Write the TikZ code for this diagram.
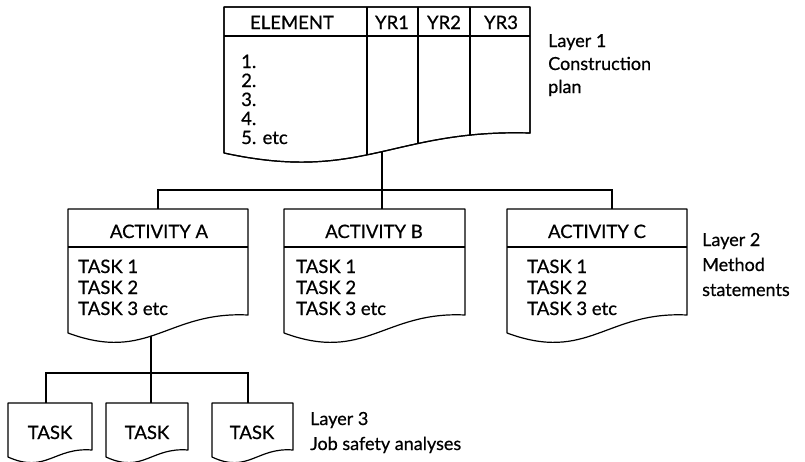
\documentclass[tikz,border=0pt]{standalone}
\usepackage{fontspec}
\setmainfont{Lato}[FakeBold=0.6]
\begin{document}
\begin{tikzpicture}[x=1pt,y=-1pt,
  box/.style={draw=black, line width=1.2pt, fill=white, line join=round},
  conn/.style={draw=black, line width=1.2pt},
  rule/.style={draw=black, line width=1.2pt},
  txt/.style={font=\fontsize{18.5}{21}\selectfont, inner sep=0pt},
  hdr/.style={txt, anchor=base},
  body/.style={txt, anchor=base west},
  lbl/.style={font=\fontsize{18}{22}\selectfont, inner sep=0pt, anchor=base west}]
\useasboundingbox (0,0) rectangle (805,461);

% ---- junction coordinates
\coordinate (tabstem) at (382,140);
\coordinate (Btop) at (382,209);
\coordinate (Atop) at (158,209);
\coordinate (Ctop) at (612,209);
\coordinate (bus1) at (382,190);
\coordinate (Astem) at (151,325);
\coordinate (bus2) at (151,373);
\coordinate (T1top) at (46,403);
\coordinate (T2top) at (151,403);
\coordinate (T3top) at (248,403);

% ---- connectors (drawn first, boxes cover their inner ends)
\draw[conn] (tabstem) -- (Btop);
\draw[conn] (Atop) |- (bus1) -| (Ctop);
\draw[conn] (Astem) -- (T2top);
\draw[conn] (T1top) |- (bus2) -| (T3top);

% ---- Layer 1 table
\path[box] (224,7) -- (530,7) -- (530,133) .. controls (392,129) and (362,183) .. (224,153) -- cycle;
\begin{scope}
  \clip (224,7) -- (530,7) -- (530,133) .. controls (392,129) and (362,183) .. (224,153) -- cycle;
  \draw[rule] (367,7) -- (367,200);
  \draw[rule] (418,7) -- (418,200);
  \draw[rule] (470,7) -- (470,200);
\end{scope}
\draw[box, fill=none] (224,7) -- (530,7) -- (530,133) .. controls (392,129) and (362,183) .. (224,153) -- cycle;
\draw[rule] (224,36) -- (530,36);
\node[hdr] (el) at (292,29) {ELEMENT};
\node[hdr] (y1) at (392,29) {YR1};
\node[hdr] (y2) at (444,29) {YR2};
\node[hdr] (y3) at (501,29) {YR3};
\node[body] (i1) at (241,68) {1.};
\node[body] (i2) at (241,87) {2.};
\node[body] (i3) at (241,106) {3.};
\node[body] (i4) at (241,125) {4.};
\node[body] (i5) at (241,144) {5. etc};

% ---- Layer 2 activity boxes
\path[box] (68,209) -- (248,209) -- (248,315) .. controls (167,311) and (149,363) .. (68,333) -- cycle;
\draw[rule] (68,247) -- (248,247);
\node[hdr] (actA) at (159,238) {ACTIVITY A};
\node[body] (a1) at (78,273) {TASK 1};
\node[body] (a2) at (78,294) {TASK 2};
\node[body] (a3) at (78,315) {TASK 3 etc};

\path[box] (284,209) -- (465,209) -- (465,315) .. controls (384,311) and (365,363) .. (284,333) -- cycle;
\draw[rule] (284,247) -- (465,247);
\node[hdr] (actB) at (374,238) {ACTIVITY B};
\node[body] (b1) at (296,273) {TASK 1};
\node[body] (b2) at (296,294) {TASK 2};
\node[body] (b3) at (296,315) {TASK 3 etc};

\path[box] (507,209) -- (687,209) -- (687,315) .. controls (606,311) and (588,363) .. (507,333) -- cycle;
\draw[rule] (507,247) -- (687,247);
\node[hdr] (actC) at (597,238) {ACTIVITY C};
\node[body] (c1) at (527,273) {TASK 1};
\node[body] (c2) at (527,294) {TASK 2};
\node[body] (c3) at (527,315) {TASK 3 etc};

% ---- Layer 3 task boxes
\path[box] (8,403) -- (92,403) -- (92,450) .. controls (54,447) and (46,474) .. (8,457) -- cycle;
\node[hdr] (t1) at (50,439) {TASK};
\path[box] (106,403) -- (188,403) -- (188,450) .. controls (151,447) and (143,474) .. (106,457) -- cycle;
\node[hdr] (t2) at (147,439) {TASK};
\path[box] (212,403) -- (293,403) -- (293,450) .. controls (257,447) and (248,474) .. (212,457) -- cycle;
\node[hdr] (t3) at (252,439) {TASK};

% ---- layer labels
\node[lbl] (l1a) at (548,47) {Layer 1};
\node[lbl] (l1b) at (548,70) {Construction};
\node[lbl] (l1c) at (548,93) {plan};
\node[lbl] (l2a) at (702,246) {Layer 2};
\node[lbl] (l2b) at (702,271) {Method};
\node[lbl] (l2c) at (702,296) {statements};
\node[lbl] (l3a) at (310,425) {Layer 3};
\node[lbl] (l3b) at (310,450) {Job safety analyses};
\end{tikzpicture}
\end{document}
